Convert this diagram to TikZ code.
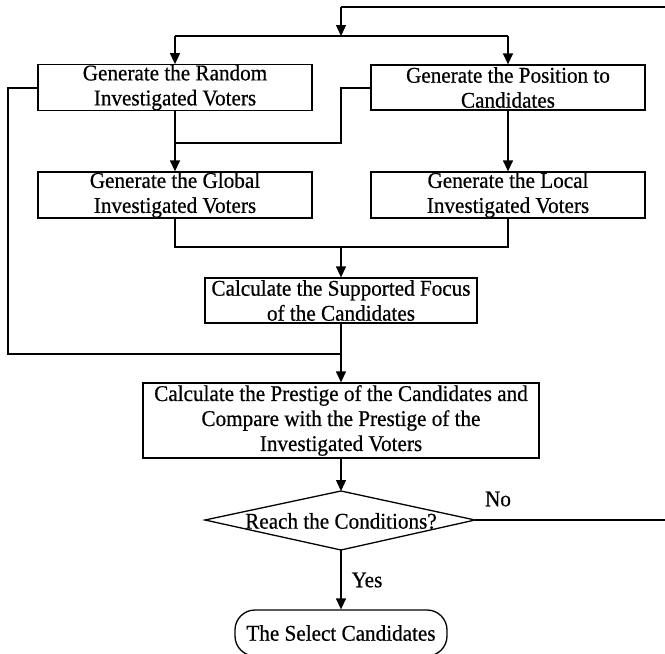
\documentclass[tikz,border=0pt]{standalone}
\usepackage{fontspec}
\setmainfont[FakeStretch=0.94,FakeBold=0.6]{Liberation Serif}
\usetikzlibrary{arrows.meta}
\begin{document}
\begin{tikzpicture}[x=1pt,y=-1pt,
  every path/.style={line width=1.3pt},
  box/.style={draw,line width=1.3pt,rectangle,inner sep=0pt,align=center,
    font=\fontsize{22.5}{25}\selectfont},
  term/.style={draw,line width=1.3pt,rounded corners=20pt,inner sep=0pt,
    font=\fontsize{22.5}{25}\selectfont},
  lbl/.style={font=\fontsize{22.5}{25}\selectfont,inner sep=0pt},
  arr/.style={-{Triangle[width=10pt,length=11pt]}}]
\useasboundingbox (0,0) rectangle (665,654);
\node[box,minimum width=274pt,minimum height=45pt] (b1) at (175,87.5) {Generate the Random\\Investigated Voters};
\node[box,minimum width=274pt,minimum height=45pt] (b2) at (508,87.5) {Generate the Position to\\Candidates};
\node[box,minimum width=274pt,minimum height=46pt] (b3) at (175,195) {Generate the Global\\Investigated Voters};
\node[box,minimum width=274pt,minimum height=46pt] (b4) at (508,195) {Generate the Local\\Investigated Voters};
\node[box,minimum width=272pt,minimum height=45pt] (b5) at (341,300.5) {Calculate the Supported Focus\\of the Candidates};
\node[box,minimum width=396pt,minimum height=75pt] (b6) at (341,420.5) {Calculate the Prestige of the Candidates and\\Compare with the Prestige of the\\Investigated Voters};
\node[lbl] (cond) at (341,521) {Reach the Conditions?};
\coordinate (ct) at (341,491);
\coordinate (cb) at (341,550);
\coordinate (cl) at (205,520);
\coordinate (cr) at (475,520);
\draw (cl) -- (ct) -- (cr) -- (cb) -- cycle;
\node[term,minimum width=212pt,minimum height=46pt] (end) at (341,633) {The Select Candidates};
\node[lbl] (no) at (498,499) {No};
\node[lbl] (yes) at (367,580) {Yes};
% feedback from decision
\coordinate (rb) at (667,520);
\coordinate (rt) at (667,7);
\coordinate (tt) at (341,7);
\coordinate (split) at (341,36);
\draw (cr) -- (rb) -- (rt) -- (tt);
\draw[arr] (tt) -- (split);
\draw (b1.north |- split) -- (b2.north |- split);
\draw[arr] (b1.north |- split) -- (b1.north);
\draw[arr] (b2.north |- split) -- (b2.north);
% middle connections
\coordinate (j1) at (175,143);
\draw (b2.west |- 0,88) -- (341,88) -- (341,143) -- (j1);
\draw[arr] (b1.south) -- (b3.north);
\draw[arr] (b2.south) -- (b4.north);
% join to b5
\coordinate (j2) at (341,247);
\draw (b3.south) -- (175,247) -- (508,247) -- (b4.south);
\draw[arr] (j2) -- (b5.north);
% left loop
\coordinate (j3) at (341,354);
\draw (b1.west |- 0,88) -- (8,88) -- (8,354) -- (j3);
\draw[arr] (b5.south) -- (b6.north);
\draw[arr] (b6.south) -- (ct);
\draw[arr] (cb) -- (end.north);
\end{tikzpicture}
\end{document}
